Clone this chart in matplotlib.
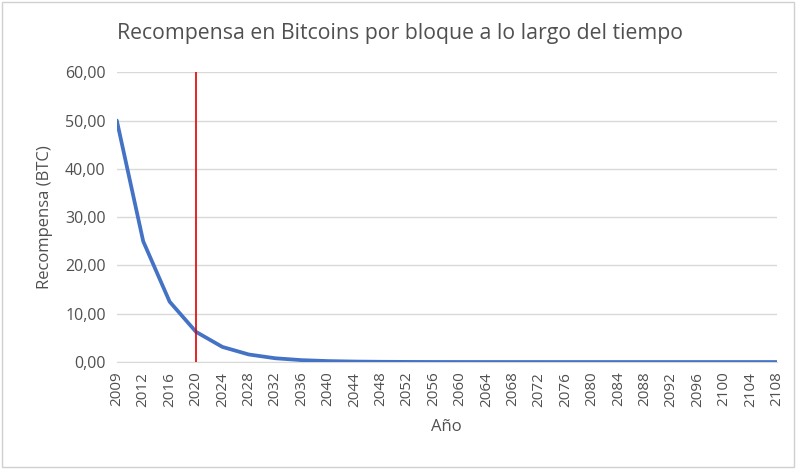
import matplotlib
matplotlib.use("Agg")
import matplotlib.pyplot as plt
from matplotlib.patches import Rectangle

years = ["2009", "2012", "2016", "2020", "2024", "2028", "2032", "2036", "2040",
         "2044", "2048", "2052", "2056", "2060", "2064", "2068", "2072", "2076",
         "2080", "2084", "2088", "2092", "2096", "2100", "2104", "2108"]
reward = [50.0, 25.0, 12.5, 6.25, 3.125, 1.5625, 0.78125, 0.390625, 0.1953125,
          0.09765625, 0.048828125, 0.0244140625, 0.01220703125, 0.006103515625,
          0.0030517578125, 0.00152587890625, 0.000762939453125, 0.0003814697265625,
          0.00019073486328125, 0.000095367431640625, 0.0000476837158203125,
          0.00002384185791015625, 0.000011920928955078125, 0.0000059604644775390625,
          0.00000298023223876953125, 0.000001490116119384765625]
marker_year = "2020"
yticks = [0, 10, 20, 30, 40, 50, 60]

plt.rcParams['font.family'] = ['Open Sans', 'DejaVu Sans']
txt = '#505050'

fig = plt.figure(figsize=(8, 4.72), dpi=100)
ax = fig.add_axes([0.146, 0.233, 0.825, 0.614])

x = list(range(len(years)))
ax.plot(x, reward, color='#4472C4', lw=2.7, solid_capstyle='round', zorder=3)
mi = years.index(marker_year)
ax.plot([mi, mi], [0, 60], color='#E00000', lw=1.2, zorder=4)

ax.set_xlim(0, len(years) - 1)
ax.set_ylim(0, 60)
ax.set_yticks(yticks)
ax.set_yticklabels([f"{v:.2f}".replace('.', ',') for v in yticks], fontsize=11.5, color=txt)
ax.set_xticks(x)
ax.set_xticklabels(years, rotation=90, fontsize=11, color=txt)
ax.grid(axis='y', color='#D9D9D9', lw=1)
ax.set_axisbelow(True)
for s in ['top', 'right', 'left']:
    ax.spines[s].set_visible(False)
ax.spines['bottom'].set_color('#D9D9D9')
ax.tick_params(axis='y', length=0, pad=8)
ax.tick_params(axis='x', length=0, pad=7)

ax.set_ylabel("Recompensa (BTC)", fontsize=12, color=txt, labelpad=9)
ax.set_xlabel("Año", fontsize=12, color=txt, labelpad=9)
fig.text(0.5, 0.93, "Recompensa en Bitcoins por bloque a lo largo del tiempo",
         ha='center', va='center', fontsize=15.3, color=txt)

fig.patches.append(Rectangle((0.003, 0.01), 0.99, 0.985, transform=fig.transFigure,
                             fill=False, edgecolor='#D0D0D0', lw=1))
fig.savefig("out.png", dpi=100)
